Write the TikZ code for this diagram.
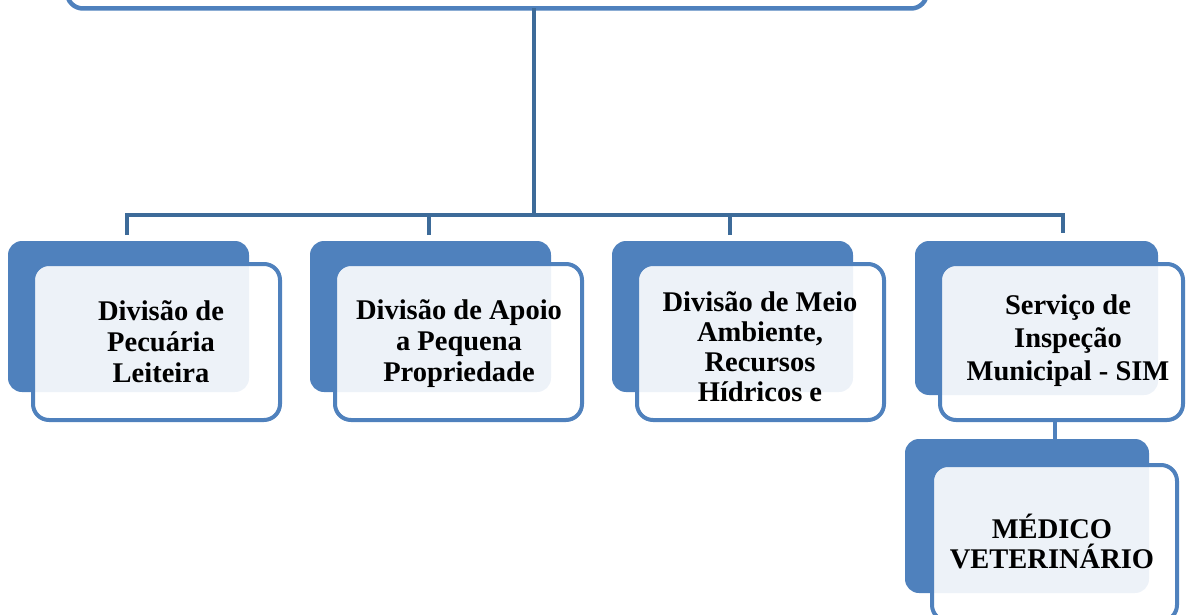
\documentclass[tikz,border=0pt]{standalone}
\usepackage{fontspec}
\setmainfont{Liberation Serif}
\definecolor{accent}{RGB}{79,129,189}
\definecolor{conncol}{RGB}{61,107,153}
\tikzset{
  back/.style={fill=accent, draw=none, rounded corners=14pt, inner sep=0pt, outer sep=0pt, anchor=north west},
  front/.style={draw=accent, line width=4pt, fill=white, fill opacity=0.9, rounded corners=16pt, inner sep=0pt, outer sep=0pt, anchor=north west},
  lbl/.style={font=\fontsize{28.5}{31}\selectfont\bfseries, align=center, text=black, inner sep=0pt},
  conn/.style={draw=conncol, line width=4.5pt},
}
\begin{document}
\begin{tikzpicture}[x=1pt,y=-1pt]
\useasboundingbox (0,0) rectangle (1186,615);
\clip (0,0) rectangle (1186,615);

% top box
\node[draw=accent, line width=4.5pt, rounded corners=16pt, inner sep=0pt, outer sep=0pt, minimum width=860pt, minimum height=60pt, anchor=south west] (top) at (67,8.5) {};

% connectors
\coordinate (j) at (534,215);
\coordinate (e1) at (127,235);
\coordinate (e2) at (429,235);
\coordinate (e3) at (730,235);
\coordinate (e4) at (1063,233);
\draw[conn] (top.south -| j) -- (j);
\draw[conn] (e1) -- (e1 |- j) -- (e4 |- j) -- (e4);
\draw[conn] (e2) -- (e2 |- j);
\draw[conn] (e3) -- (e3 |- j);

% box 1
\node[back, minimum width=241pt, minimum height=151pt] (b1) at (8,241) {};
\node[front, minimum width=247pt, minimum height=156pt] (f1) at (33,264) {};
\node[lbl] (t1) at (161,342) {Divisão de\\Pecuária\\Leiteira};

% box 2
\node[back, minimum width=241pt, minimum height=151pt] (b2) at (310,241) {};
\node[front, minimum width=247pt, minimum height=156pt] (f2) at (335,264) {};
\node[lbl] (t2) at (459,344) {Divisão de Apoio\\a Pequena\\Propriedade};

% box 3
\node[back, minimum width=241pt, minimum height=151pt] (b3) at (612,241) {};
\node[front, minimum width=247pt, minimum height=156pt] (f3) at (637,264) {};
\node[lbl, font=\fontsize{28.5}{30}\selectfont\bfseries] (t3) at (760,347) {Divisão de Meio\\Ambiente,\\Recursos\\Hídricos e};

% box 4
\node[back, minimum width=243pt, minimum height=154pt] (b4) at (915,241) {};
\node[front, minimum width=243pt, minimum height=156pt] (f4) at (940,264) {};
\node[lbl, font=\fontsize{28.5}{33}\selectfont\bfseries] (t4) at (1068,341) {Serviço de\\Inspeção\\Municipal - SIM};

% box 5
\node[back, minimum width=244pt, minimum height=154pt] (b5) at (905,439) {};
\coordinate (m) at (1055,450);
\draw[draw=accent, line width=4.5pt] (f4.south -| m) -- (m);
\node[front, minimum width=245pt, minimum height=156pt] (f5) at (932,465) {};
\node[lbl, font=\fontsize{28.5}{30}\selectfont\bfseries] (t5) at (1052,541) {MÉDICO\\VETERINÁRIO};
\end{tikzpicture}
\end{document}
